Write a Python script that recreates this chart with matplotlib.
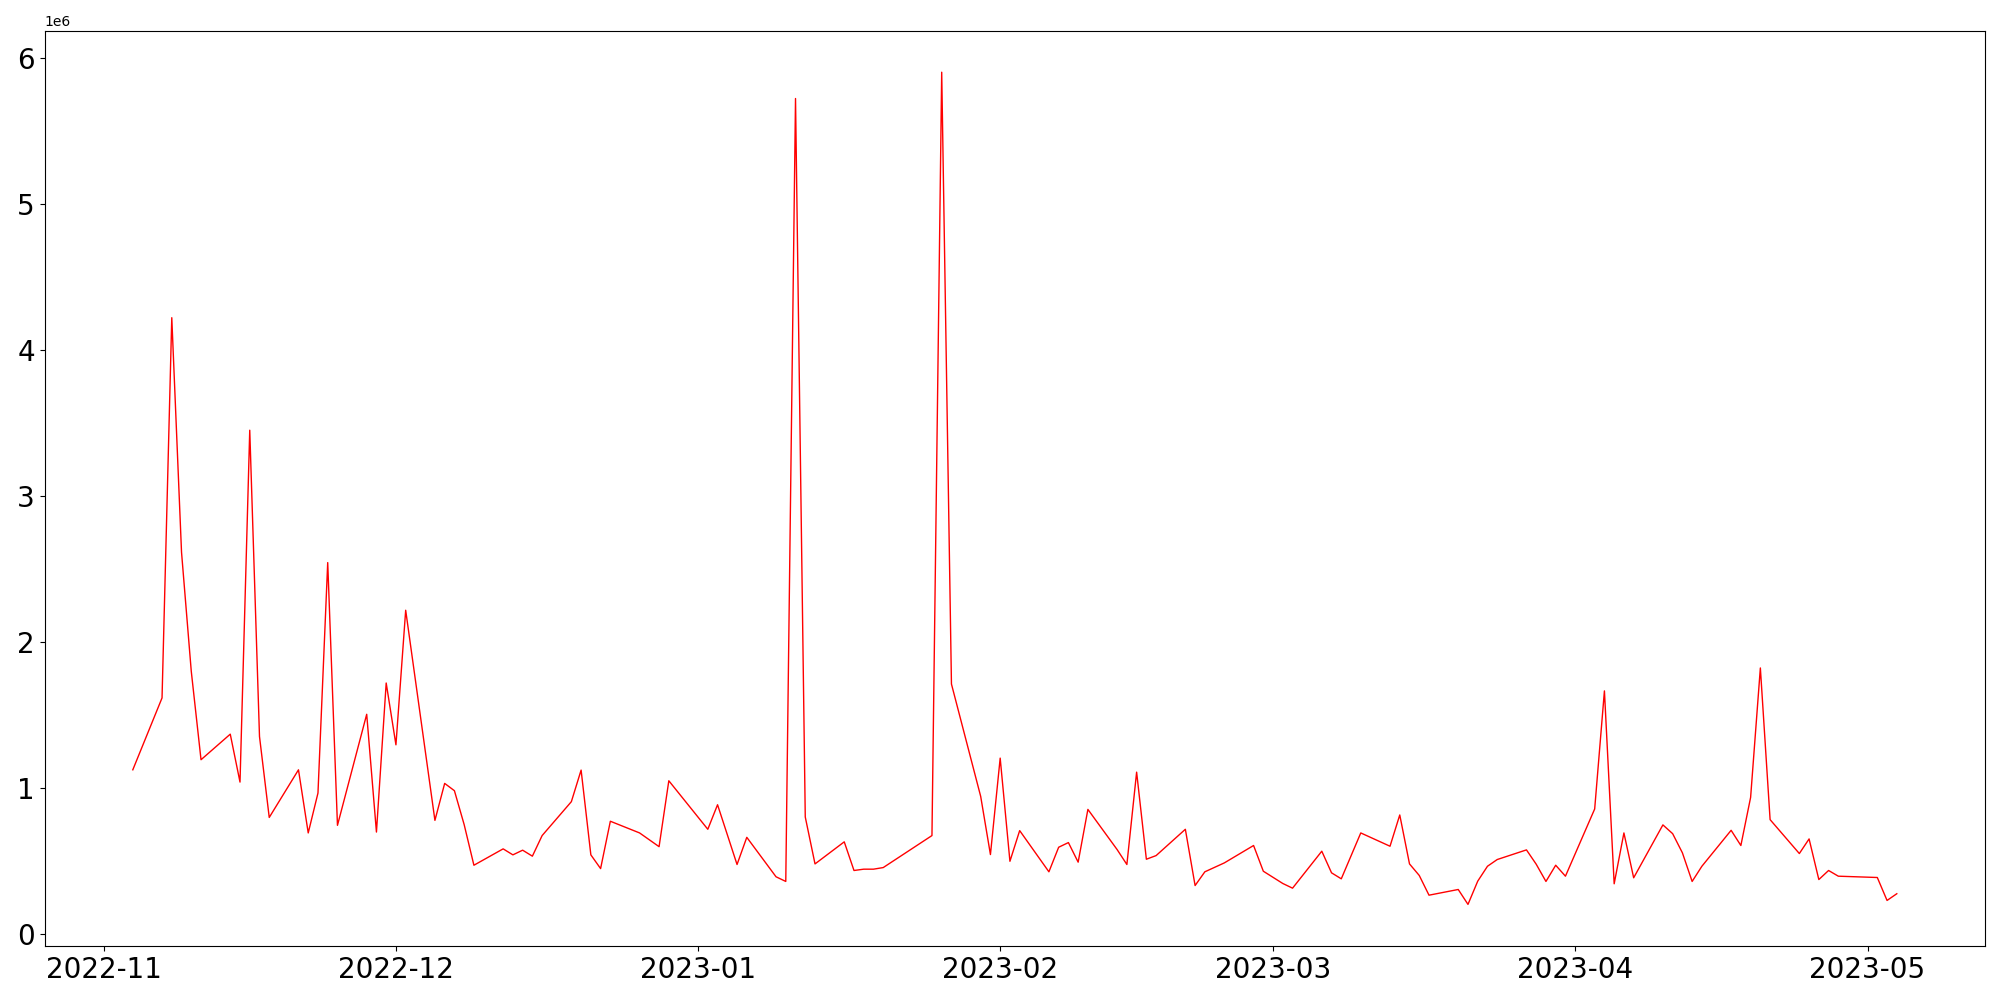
import numpy as np
import pandas as pd
import matplotlib
matplotlib.use('Agg')
import matplotlib.pyplot as plt

# daily values (weekdays, gaps drawn as straight segments)
dates = ['2022-11-04', '2022-11-07', '2022-11-08', '2022-11-09', '2022-11-10', '2022-11-11',
         '2022-11-14', '2022-11-15', '2022-11-16', '2022-11-17', '2022-11-18',
         '2022-11-21', '2022-11-22', '2022-11-23', '2022-11-24', '2022-11-25',
         '2022-11-28', '2022-11-29', '2022-11-30', '2022-12-01', '2022-12-02',
         '2022-12-05', '2022-12-06', '2022-12-07', '2022-12-08', '2022-12-09',
         '2022-12-12', '2022-12-13', '2022-12-14', '2022-12-15', '2022-12-16',
         '2022-12-19', '2022-12-20', '2022-12-21', '2022-12-22', '2022-12-23',
         '2022-12-26', '2022-12-28', '2022-12-29',
         '2023-01-02', '2023-01-03', '2023-01-05', '2023-01-06',
         '2023-01-09', '2023-01-10', '2023-01-11', '2023-01-12', '2023-01-13',
         '2023-01-16', '2023-01-17', '2023-01-18', '2023-01-19', '2023-01-20',
         '2023-01-25', '2023-01-26', '2023-01-27',
         '2023-01-30', '2023-01-31', '2023-02-01', '2023-02-02', '2023-02-03',
         '2023-02-06', '2023-02-07', '2023-02-08', '2023-02-09', '2023-02-10',
         '2023-02-13', '2023-02-14', '2023-02-15', '2023-02-16', '2023-02-17',
         '2023-02-20', '2023-02-21', '2023-02-22', '2023-02-24',
         '2023-02-27', '2023-02-28', '2023-03-01', '2023-03-02', '2023-03-03',
         '2023-03-06', '2023-03-07', '2023-03-08', '2023-03-10',
         '2023-03-13', '2023-03-14', '2023-03-15', '2023-03-16', '2023-03-17',
         '2023-03-20', '2023-03-21', '2023-03-22', '2023-03-23', '2023-03-24',
         '2023-03-27', '2023-03-28', '2023-03-29', '2023-03-30', '2023-03-31',
         '2023-04-03', '2023-04-04', '2023-04-05', '2023-04-06', '2023-04-07',
         '2023-04-10', '2023-04-11', '2023-04-12', '2023-04-13', '2023-04-14',
         '2023-04-17', '2023-04-18', '2023-04-19', '2023-04-20', '2023-04-21',
         '2023-04-24', '2023-04-25', '2023-04-26', '2023-04-27', '2023-04-28',
         '2023-05-02', '2023-05-03', '2023-05-04']

values = [1.126, 1.618, 4.22, 2.615, 1.80, 1.195,
          1.37, 1.042, 3.45, 1.354, 0.80,
          1.126, 0.694, 0.967, 2.544, 0.746,
          1.506, 0.70, 1.72, 1.297, 2.218,
          0.78, 1.033, 0.983, 0.751, 0.473,
          0.585, 0.544, 0.576, 0.535, 0.676,
          0.908, 1.124, 0.544, 0.45, 0.774,
          0.694, 0.60, 1.051,
          0.719, 0.887, 0.478, 0.664,
          0.394, 0.362, 5.72, 0.803, 0.482,
          0.633, 0.437, 0.446, 0.446, 0.457,
          0.676, 5.90, 1.713,
          0.944, 0.546, 1.206, 0.50, 0.71,
          0.428, 0.596, 0.628, 0.494, 0.855,
          0.58, 0.478, 1.11, 0.514, 0.539,
          0.719, 0.334, 0.428, 0.489,
          0.608, 0.432, 0.39, 0.348, 0.316,
          0.569, 0.421, 0.38, 0.694,
          0.603, 0.817, 0.482, 0.403, 0.268,
          0.307, 0.205, 0.364, 0.466, 0.512,
          0.578, 0.48, 0.362, 0.473, 0.398,
          0.858, 1.666, 0.346, 0.694, 0.387,
          0.749, 0.689, 0.558, 0.362, 0.466,
          0.712, 0.608, 0.937, 1.823, 0.785,
          0.553, 0.653, 0.375, 0.437, 0.398,
          0.389, 0.232, 0.278]

x = pd.to_datetime(dates)
y = np.array(values) * 1e6

fig, ax = plt.subplots(figsize=(20, 10), dpi=100)
ax.plot(x, y, color='red', linewidth=1.0)
ax.tick_params(axis='both', labelsize=20)
fig.subplots_adjust(left=0.0223, right=0.9925, bottom=0.054, top=0.9694)
fig.savefig('out.png', dpi=100)
